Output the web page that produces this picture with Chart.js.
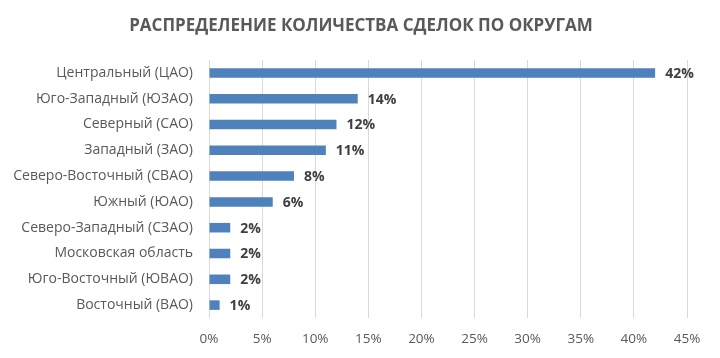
<!DOCTYPE html>
<html><head><meta charset="utf-8">
<script src="https://cdn.jsdelivr.net/npm/chart.js@4"></script>
<style>html,body{margin:0;padding:0;background:#fff}#wrap{width:720px;height:358px}</style>
</head><body><div id="wrap"><canvas id="c"></canvas></div>
<script>
const titleText = "РАСПРЕДЕЛЕНИЕ КОЛИЧЕСТВА СДЕЛОК ПО ОКРУГАМ";
const categories = ["Центральный (ЦАО)","Юго-Западный (ЮЗАО)","Северный (САО)","Западный (ЗАО)","Северо-Восточный (СВАО)","Южный (ЮАО)","Северо-Западный (СЗАО)","Московская область","Юго-Восточный (ЮВАО)","Восточный (ВАО)"];
const values = [42,14,12,11,8,6,2,2,2,1];
const xTicks = [0,5,10,15,20,25,30,35,40,45];

const FONT = "'Open Sans', sans-serif";
const labelPlugin = {
  id:'vals',
  afterDatasetsDraw(chart){
    const ctx = chart.ctx; const meta = chart.getDatasetMeta(0);
    ctx.save();
    ctx.font = "bold 14px " + FONT; ctx.fillStyle = "#404040";
    ctx.textAlign = "left"; ctx.textBaseline = "middle";
    meta.data.forEach((b,i)=>{ ctx.fillText(values[i]+"%", b.x+10, b.y+1); });
    ctx.restore();
  }
};
const titlePlugin = {
  id:'ttl',
  afterDraw(chart){
    const ctx = chart.ctx; ctx.save();
    ctx.font = "bold 17px " + FONT; ctx.fillStyle = "#595959";
    ctx.textAlign = "center"; ctx.textBaseline = "middle";
    ctx.fillText(titleText, 361, 26);
    ctx.restore();
  }
};
new Chart(document.getElementById('c'), {
  type:'bar',
  data:{labels:categories, datasets:[{data:values, backgroundColor:'#4F81BD', borderWidth:0, categoryPercentage:0.37, barPercentage:1}]},
  options:{
    indexAxis:'y', responsive:true, maintainAspectRatio:false, animation:false,
    layout:{padding:{top:60,right:33,left:0,bottom:0}},
    plugins:{legend:{display:false}, tooltip:{enabled:false}, title:{display:false}},
    scales:{
      x:{min:0,max:45, afterBuildTicks(s){s.ticks = xTicks.map(v=>({value:v}));},
        ticks:{callback:v=>v+'%', color:'#595959', font:{family:FONT,size:13.5}, padding:13},
        grid:{color:'#D9D9D9', drawTicks:false}, border:{display:false},
        afterFit(s){s.height = 40;}},
      y:{ticks:{color:'#595959', font:{family:FONT,size:14}, padding:16},
        grid:{display:false, drawTicks:false}, border:{display:false},
        afterFit(s){s.width = 209;}}
    }
  },
  plugins:[labelPlugin,titlePlugin]
});
</script></body></html>
